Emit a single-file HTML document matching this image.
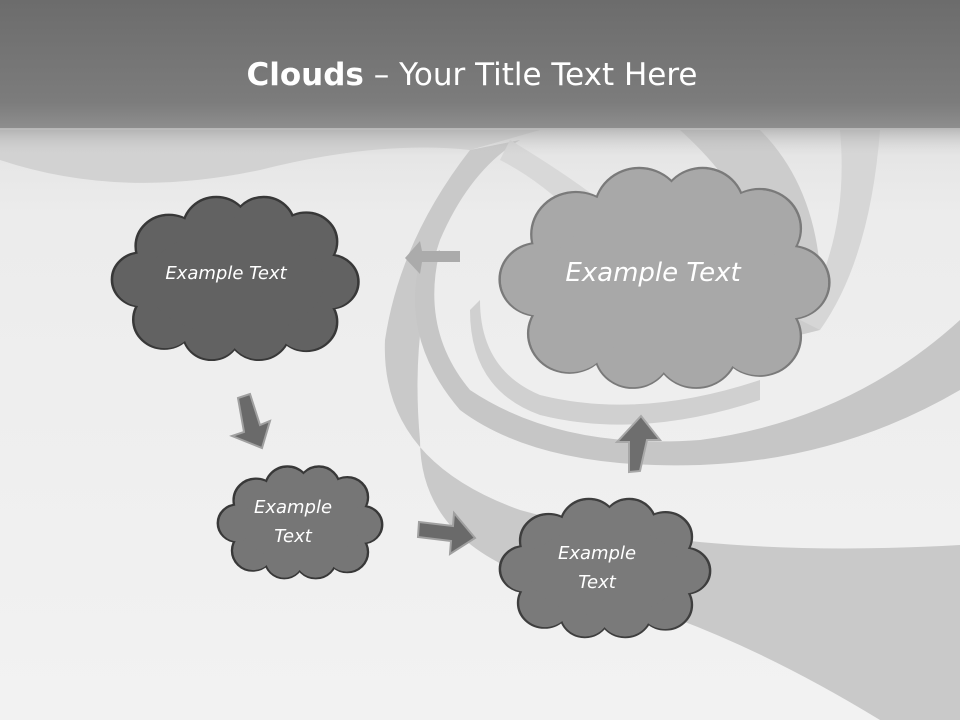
<!DOCTYPE html>
<html><head><meta charset="utf-8"><style>
html,body{margin:0;padding:0;}
body{width:960px;height:720px;overflow:hidden;position:relative;font-family:"Liberation Sans","DejaVu Sans",sans-serif;}
.t{position:absolute;color:#fff;font-style:italic;text-align:center;font-family:"DejaVu Sans","Liberation Sans",sans-serif;}
</style></head><body>
<svg width="960" height="720" style="position:absolute;left:0;top:0">
<defs>
<linearGradient id="hd" x1="0" y1="0" x2="0" y2="1">
<stop offset="0" stop-color="#6c6c6c"/><stop offset="0.8" stop-color="#7c7c7c"/><stop offset="1" stop-color="#8e8e8e"/></linearGradient>
<linearGradient id="bg" x1="0" y1="0" x2="0" y2="1">
<stop offset="0" stop-color="#d6d6d6"/><stop offset="0.3" stop-color="#ececec"/><stop offset="1" stop-color="#f2f2f2"/></linearGradient>
<linearGradient id="sh" x1="0" y1="0" x2="0" y2="1">
<stop offset="0" stop-color="#9a9a9a"/><stop offset="1" stop-color="#d0d0d0" stop-opacity="0"/></linearGradient>
<g id="cs">
<circle cx="22" cy="22" r="14"/><circle cx="42" cy="14" r="14"/><circle cx="62" cy="13" r="13"/><circle cx="80" cy="20" r="13"/><circle cx="90" cy="38" r="12"/><circle cx="80" cy="56" r="13"/><circle cx="60" cy="60" r="13"/><circle cx="40" cy="61" r="12"/><circle cx="20" cy="55" r="13"/><circle cx="10" cy="37" r="12"/><ellipse cx="50" cy="38" rx="38" ry="24"/>
</g>
</defs>
<rect width="960" height="720" fill="url(#bg)"/>
<path d="M0,160 Q120,200 260,170 Q380,140 470,150 L540,130 L0,130Z" fill="#d2d2d2"/>
<path d="M470,150 Q400,240 385,340 Q380,460 520,510 Q700,560 960,545 L960,720 L880,720 Q700,610 540,580 Q420,540 420,440 Q410,330 440,240 Q470,170 520,140Z" fill="#c9c9c9"/>
<path d="M440,250 Q420,330 470,390 Q560,450 700,440 Q850,420 960,320 L960,390 Q840,460 700,465 Q540,470 460,410 Q400,340 420,260Z" fill="#c6c6c6"/>
<path d="M480,300 Q480,370 540,395 Q640,420 760,380 L760,400 Q640,440 540,415 Q470,390 470,310Z" fill="#d0d0d0"/>
<path d="M680,130 L760,130 Q830,200 820,330 L780,340 Q780,220 680,130Z" fill="#cccccc"/>
<path d="M840,130 L880,130 Q870,260 820,330 L800,320 Q850,240 840,130Z" fill="#d6d6d6"/>
<path d="M510,140 Q560,170 600,200 L580,220 Q540,180 500,160Z" fill="#d8d8d8"/>
<rect x="0" y="128" width="960" height="28" fill="url(#sh)" opacity="0.6"/>
<rect width="960" height="128" fill="url(#hd)"/>
<g transform="translate(116.7,197) scale(2.37,2.23)"><use href="#cs" fill="#626262" stroke="#383838" style="stroke-width:1.1"/></g>
<g transform="translate(116.7,197) scale(2.37,2.23)"><use href="#cs" fill="#626262" transform="translate(0.6,0.6) scale(0.988)"/></g>
<g transform="translate(221,466.5) scale(1.58,1.53)"><use href="#cs" fill="#767676" stroke="#383838" style="stroke-width:1.6"/></g>
<g transform="translate(221,466.5) scale(1.58,1.53)"><use href="#cs" fill="#767676" transform="translate(0.8,0.8) scale(0.984)"/></g>
<g transform="translate(504,499) scale(2.02,1.89)"><use href="#cs" fill="#7a7a7a" stroke="#3e3e3e" style="stroke-width:1.3"/></g>
<g transform="translate(504,499) scale(2.02,1.89)"><use href="#cs" fill="#7a7a7a" transform="translate(0.6,0.6) scale(0.988)"/></g>
<g transform="translate(506,168) scale(3.17,3.01)"><use href="#cs" fill="#a8a8a8" stroke="#7a7a7a" style="stroke-width:0.8"/></g>
<g transform="translate(506,168) scale(3.17,3.01)"><use href="#cs" fill="#a8a8a8" transform="translate(0.4,0.4) scale(0.992)"/></g>
<polygon points="238,398 250,394 260,425 270,421 262,448 232,436 244,432" fill="#6a6a6a" stroke="#a0a0a0" stroke-width="2"/>
<polygon points="419,522 453,526 454,513 475,538 450,554 451,541 418,537" fill="#6a6a6a" stroke="#a0a0a0" stroke-width="2"/>
<polygon points="629,472 629,442 617,442 641,416 660,440 647,440 640,471" fill="#6e6e6e" stroke="#a8a8a8" stroke-width="2"/>
<polygon points="460,251 460,262 422,262 420,274 405,258 420,241 422,251" fill="#ababab"/>
</svg>
<div style="position:absolute;left:0;top:57px;width:944px;text-align:center;color:#fff;font-size:31px;font-family:'DejaVu Sans','Liberation Sans',sans-serif;"><b>Clouds</b> – Your Title Text Here</div>
<div class="t" style="left:126px;top:263px;width:200px;font-size:18px;">Example Text</div>
<div class="t" style="left:213px;top:493px;width:160px;font-size:18px;line-height:29px;">Example<br>Text</div>
<div class="t" style="left:517px;top:539px;width:160px;font-size:18px;line-height:29px;">Example<br>Text</div>
<div class="t" style="left:528px;top:258px;width:250px;font-size:26px;">Example Text</div>
</body></html>
